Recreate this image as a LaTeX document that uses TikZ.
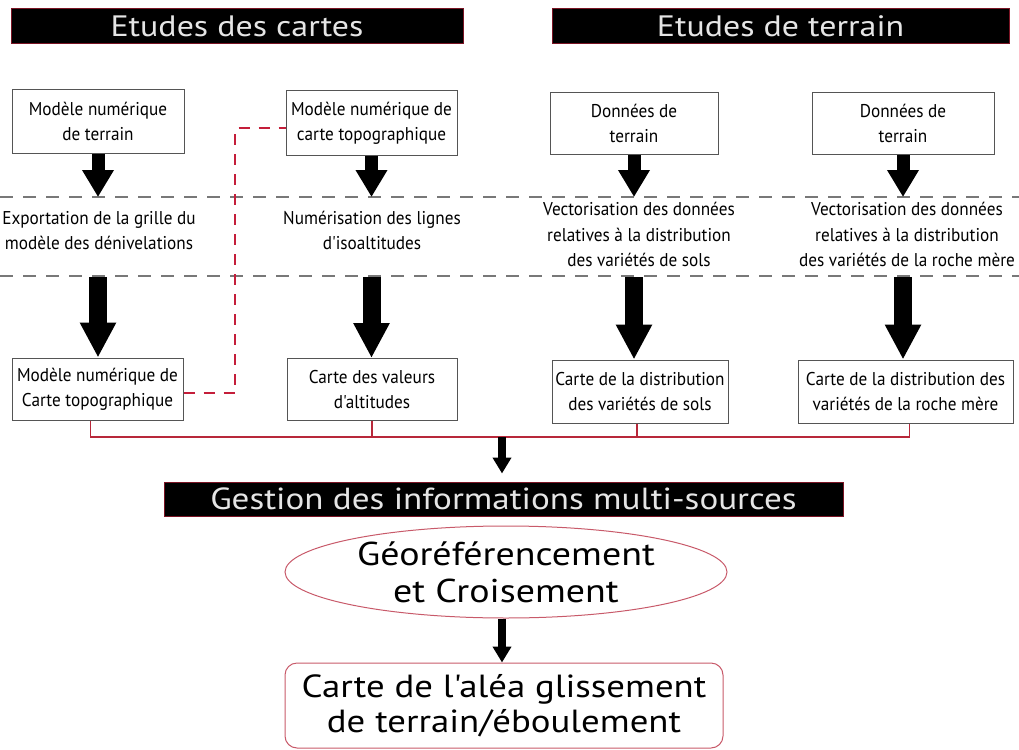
\documentclass[tikz,border=0pt]{standalone}
\usepackage{fontspec}
\setmainfont{PT Sans}
\newfontfamily\narfont[FakeStretch=0.93]{PT Sans}
\newfontfamily\bigfont[FakeStretch=1.15]{PT Sans}
\usetikzlibrary{arrows.meta,shapes.geometric,calc}
\definecolor{dred}{HTML}{7A1424}
\definecolor{bred}{HTML}{C41E3A}
\definecolor{busred}{HTML}{B8283A}
\definecolor{lred}{HTML}{C85A6A}
\definecolor{bgray}{HTML}{555555}
\definecolor{dgray}{HTML}{787878}
\begin{document}
\begin{tikzpicture}[x=1pt,y=-1pt,
  banner/.style={fill=black, draw=dred, line width=1pt, text=white!90!black, minimum height=35pt, inner sep=0pt, font=\bigfont\fontsize{29.5}{30}\selectfont},
  box/.style={draw=bgray, line width=1pt, fill=white, align=center, inner sep=0pt, font=\narfont\fontsize{18.5}{25}\selectfont},
  lbl/.style={align=center, inner sep=0pt, font=\narfont\fontsize{18.5}{25.5}\selectfont},
  sarrow/.style={line width=13pt, -{Triangle[width=30pt,length=27pt]}},
  barrow/.style={line width=18pt, -{Triangle[width=34pt,length=35pt]}},
  tarrow/.style={line width=8pt, -{Triangle[width=18pt,length=16pt]}},
  graydash/.style={draw=dgray, line width=1.2pt, dash pattern=on 13pt off 10pt},
  reddash/.style={draw=bred, line width=2.5pt, dash pattern=on 11pt off 9pt},
  busline/.style={draw=busred, line width=1.5pt}]
\useasboundingbox (0,0) rectangle (1019,749);

% guide coordinates
\coordinate (d1) at (0,197);
\coordinate (d2) at (0,277);
\coordinate (busy) at (0,437);
\coordinate (rx) at (235,0);

% dashed separators
\draw[graydash] (0,197) -- (1019,197);
\draw[graydash] (0,276) -- (1019,276);

% banners
\node[banner, minimum width=452pt] (h1) at (237,26.5) {Etudes des cartes};
\node[banner, minimum width=457pt] (h2) at (780.5,26.5) {Etudes de terrain};

% top boxes
\node[box, minimum width=172pt, minimum height=63pt] (b1) at (98,121.5) {Modèle numérique\\de terrain};
\node[box, minimum width=171pt, minimum height=64pt] (b2) at (371.5,123) {Modèle numérique de\\carte topographique};
\node[box, minimum width=168pt, minimum height=62pt] (b3) at (634,123.5) {Données de\\terrain};
\node[box, minimum width=182pt, minimum height=62pt] (b4) at (903,123.5) {Données de\\terrain};

% middle labels
\node[lbl] (t1) at (99,230.5) {Exportation de la grille du\\modèle des dénivelations};
\node[lbl] (t2) at (372,230.5) {Numérisation des lignes\\d'isoaltitudes};
\node[lbl] (t3) at (639,234.5) {Vectorisation des données\\relatives à la distribution\\des variétés de sols};
\node[lbl] (t4) at (907,234.5) {Vectorisation des données\\relatives à la distribution\\des variétés de la roche mère};

% bottom boxes
\node[box, minimum width=171pt, minimum height=62pt] (b5) at (97.5,389) {Modèle numérique de\\Carte topographique};
\node[box, minimum width=170pt, minimum height=62pt] (b6) at (372,389.5) {Carte des valeurs\\d'altitudes};
\node[box, minimum width=176pt, minimum height=63pt] (b7) at (640,391.5) {Carte de la distribution\\des variétés de sols};
\node[box, minimum width=215pt, minimum height=63pt] (b8) at (905.5,391.5) {Carte de la distribution des\\variétés de la roche mère};

% small arrows
\foreach \b in {b1,b2,b3,b4}
  \draw[sarrow] (\b.south) -- (\b.south |- d1);
% big arrows
\draw[barrow] (b1.south |- d2) -- (b5.north -| b1.south);
\draw[barrow] (b2.south |- d2) -- (b6.north -| b2.south);
\draw[barrow] (b3.south |- d2) -- (b7.north -| b3.south);
\draw[barrow] (b4.south |- d2) -- (b8.north -| b4.south);

% red dashed link
\draw[reddash] ([yshift=-4pt]b5.east) -- ([yshift=-4pt]b5.east -| rx) |- ([yshift=-5pt]b2.west);

% bus
\draw[busline] ([xshift=-7pt]b5.south) |- ([xshift=4pt]b8.south |- busy) -- ([xshift=4pt]b8.south);
\draw[busline] (b6.south) -- (b6.south |- busy);
\draw[busline] ([xshift=-3pt]b7.south) -- ([xshift=-3pt]b7.south |- busy);
\coordinate (busc) at (502,437);

% lower part
\node[banner, minimum width=679pt, minimum height=34pt, font=\bigfont\fontsize{30.5}{31}\selectfont] (h3) at (503.5,499) {Gestion des informations multi-sources};
\draw[tarrow, shorten >=8pt] (busc) -- (busc |- h3.north);

\node[ellipse, draw=lred, line width=1pt, minimum width=442pt, minimum height=92pt, inner sep=0pt, align=center, font=\bigfont\fontsize{33}{37}\selectfont] (el) at (506,572) {Géoréférencement\\et Croisement};
\node[draw=lred, line width=1pt, rounded corners=12pt, minimum width=438pt, minimum height=85pt, inner sep=0pt, align=center, font=\bigfont\fontsize{32}{35}\selectfont] (fin) at (504,705.5) {Carte de l'aléa glissement\\de terrain/éboulement};
\draw[tarrow] (el.south -| busc) -- (fin.north -| busc);
\end{tikzpicture}
\end{document}
